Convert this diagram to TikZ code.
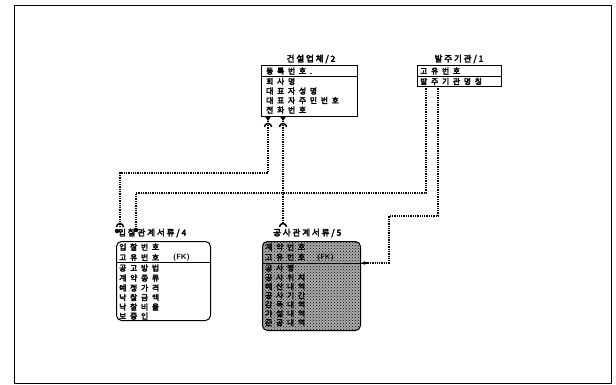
\documentclass[tikz,border=0pt]{standalone}
\usepackage{fontspec}
\newfontfamily\kr[LetterSpace=48, FakeBold=3.5]{Noto Sans CJK KR}
\newfontfamily\krt[LetterSpace=22, FakeBold=3.5]{Noto Sans CJK KR}
\usetikzlibrary{patterns,arrows.meta}
\begin{document}
\begin{tikzpicture}[x=1pt,y=-1pt,
  ent/.style={draw, line width=1pt, inner sep=0, anchor=north west},
  rel/.style={densely dotted, line width=1.3pt},
  attr/.style={anchor=west, inner sep=0, font=\kr\fontsize{7.8}{8}\selectfont},
  ttl/.style={anchor=center, inner sep=0, font=\krt\fontsize{8.5}{9}\selectfont},
  fk/.style={anchor=west, inner sep=0, font=\sffamily\bfseries\fontsize{7.5}{7.5}\selectfont},
  dot/.style={circle, fill, inner sep=0, minimum size=4.5pt}]
\useasboundingbox (0,0) rectangle (616,385);
\fill[white] (0,0) rectangle (616,385);
\node[draw, line width=1.2pt, minimum width=597pt, minimum height=378pt, anchor=north west, inner sep=0] (frame) at (14,5) {};

% Entity 2
\node[ttl] (t2) at (311,59) {건설업체/2};
\node[ent, minimum width=96pt, minimum height=51pt] (e2) at (261,65) {};
\draw[line width=1pt] (261,77) -- (357,77);
\node[attr] (a21) at (266,71) {등록번호.};
\node[attr] (a22) at (266,81.5) {회사명};
\node[attr] (a23) at (266,91) {대표자성명};
\node[attr] (a24) at (266,100.5) {대표자주민번호};
\node[attr] (a25) at (266,110) {전화번호};

% Entity 1
\node[ttl] (t1) at (459,59) {발주기관/1};
\node[ent, minimum width=84pt, minimum height=21pt] (e1) at (417,65) {};
\draw[line width=1pt] (417,76.5) -- (501,76.5);
\node[attr] (a11) at (420,71) {고유번호};
\node[attr] (a12) at (420,81.5) {발주기관명칭};

% Entity 4
\node[ttl, anchor=west] (t4) at (118,233) {입찰관계서류/4};
\node[ent, rounded corners=5pt, minimum width=94pt, minimum height=79pt] (e4) at (116,241) {};
\draw[line width=1pt] (116,262) -- (210,262);
\node[attr] (a41) at (119,247) {입찰번호};
\node[attr] (a42) at (119,257.5) {고유번호};
\node[fk] (f4) at (173,258) {(FK)};
\node[attr] (a43) at (119,268) {공고방법};
\node[attr] (a44) at (119,278) {계약종류};
\node[attr] (a45) at (119,288) {예정가격};
\node[attr] (a46) at (119,297.5) {낙찰금액};
\node[attr] (a47) at (119,307) {낙찰비율};
\node[attr] (a48) at (119,316) {보증인};

% Entity 5
\node[ttl, anchor=west] (t5) at (273,233) {공사관계서류/5};
\fill[gray!65, rounded corners=5pt] (262,241) rectangle (360,330);
\fill[pattern=crosshatch dots, pattern color=black, rounded corners=5pt] (262,241) rectangle (360,330);
\node[ent, rounded corners=5pt, minimum width=98pt, minimum height=89pt] (e5) at (262,241) {};
\draw[line width=1pt] (262,263) -- (364,263);
\node[attr] (a51) at (265,247) {계약번호};
\node[attr] (a52) at (265,257) {고유번호};
\node[fk] (f5) at (317,257.5) {(FK)};
\node[attr] (a53) at (265,268) {공사명};
\node[attr] (a54) at (265,277.5) {공사위치};
\node[attr] (a55) at (265,286.5) {예산내역};
\node[attr] (a56) at (265,295.5) {공사기간};
\node[attr] (a57) at (265,304.5) {감독내역};
\node[attr] (a58) at (265,313.5) {가설내역};
\node[attr] (a59) at (265,322.5) {준공내역};

% connector endpoints
\coordinate (c1a) at (268,116);
\coordinate (c1b) at (120,226);
\coordinate (c2a) at (283,116);
\coordinate (c2b) at (283,222);
\coordinate (c3a) at (426,86);
\coordinate (c3b) at (136,228);
\coordinate (c4a) at (438,86);
\coordinate (c4b) at (368,263);
\coordinate (c4c) at (e5.east |- c4b);

% connectors
\draw[rel] (c1a) -- (268,173) -- (120,173) -- (c1b);
\draw[rel] (c2a) -- (c2b);
\draw[rel] (c3a) -- (426,193) -- (136,193) -- (c3b);
\draw[rel] (c4a) -- (438,216) -- (389,216) -- (389,263) -- (c4b);
\draw[line width=1.3pt, -{Latex[length=4pt,width=4pt]}] (c4b) -- (c4c);

% parent-end symbols
\foreach \xx in {268,283}{
  \fill (\xx-3,116.5) -- (\xx+3,116.5) -- (\xx,121) -- cycle;
  \draw[line width=1.5pt] (\xx-3.5,127) arc[start angle=180, end angle=360, radius=3.5];
}
% child-end symbols
\draw[line width=1.5pt] (116.5,227) arc[start angle=180, end angle=360, radius=3.5];
\node[dot] (d1) at (117,231) {};
\node[dot] (d3) at (136,230) {};
\draw[line width=1.5pt] (279.5,227) arc[start angle=180, end angle=360, radius=3.5];
\end{tikzpicture}
\end{document}
